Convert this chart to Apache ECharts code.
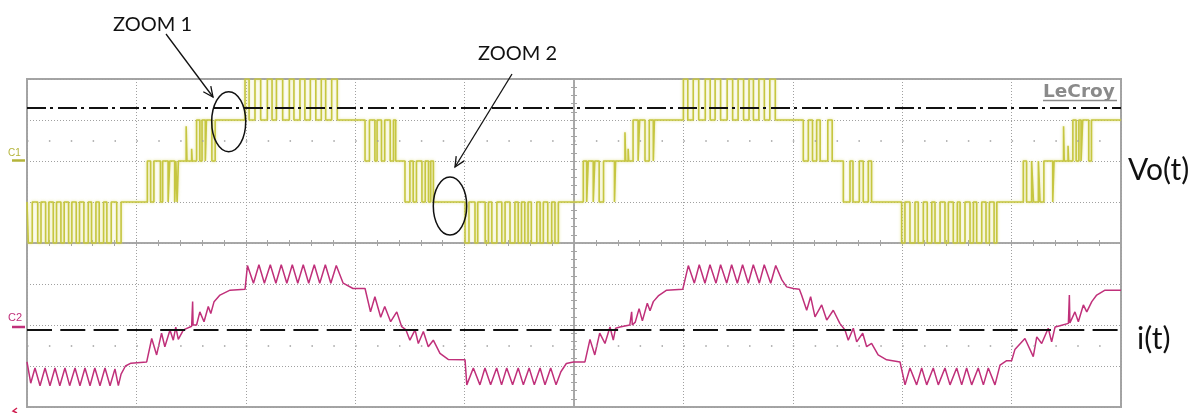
<!DOCTYPE html>
<html><head><meta charset="utf-8">
<script src="https://cdn.jsdelivr.net/npm/echarts@6/dist/echarts.min.js"></script>
<style>html,body{margin:0;padding:0;background:#fff;}#c{width:1201px;height:413px;}</style>
</head><body><div id="c"></div>
<script>
// Time axis: 10 divisions, 100 units per division. Levels in screen divisions.
// C1 (Vo): multilevel staircase, level held from t until next entry.
const c1Trace = [
 [0,-1],[1.2,-2],[4.8,-1],[9.8,-2],[12.8,-1],[17,-2],[20,-1],[24,-2],[27,-1],[31,-2],[34,-1],[38,-2],[41,-1],[45,-2],[48,-1],[52,-2],[56,-1],[59,-2],[63,-1],[66,-2],[70,-1],[73,-2],[77,-1],[82,-2],[86,-1],
 [110,0],[113,-1],[116,0],[122,-1],[124,0],[129,-1],[130.5,0],[135,-1],[136,0],[137.2,-1],[138.4,0],
 [145.5,0.85],[146.2,0],[150.5,0.3],[151,0],
 [155,1],[158,0],[160,1],[163,0],[164,1],[169,0],[172,1],
 [199.3,2],[203,1],[208.4,2],[213.6,1],[219.7,2],[224,1],[228,2],[233.7,1],[239.8,2],[244,1],[249.5,2],[254,1],[259,2],[264,1],[269,2],[273,1],[278.5,2],[283.6,1],
 [309,0],[313,1],[318,0],[320,1],[324,0],[327,1],[332,0],[335,1],[337,0],
 [345.5,-1],[350,0],[353,-1],[356,0],[361,-1],[364,0],[367,-1],[369,0],[371.5,-1],
 [400.4,-2],[404,-1],[409.5,-2],[412,-1],[418.8,-2],[421.8,-1],[424.9,-2],[429.5,-1],[434,-2],[437,-1],[441.5,-2],[446,-1],[449,-2],[452,-1],[455,-2],[458,-1],[461,-2],[466,-1],[469,-2],[472,-1],[476,-2],[479.6,-1],[482.6,-2],[485.7,-1],
 [508.5,0],[511.6,-1],[513,0],[517.6,-1],[519,0],[523,-1],[527,0],[537,-1],[538,0],
 [546.6,0.7],[547.2,0],[549.5,0.3],[550,0],
 [554,1],[558.6,0],[560,1],[564.9,0],[568.8,1],[572.5,0],[573.5,1],
 [600,2],[604,1],[609,2],[614,1],[620,2],[624.5,1],[629,2],[634,1],[640,2],[645,1],[650,2],[655,1],[660,2],[664,1],[669,2],[674,1],[679,2],[684,1],
 [709.6,0],[714.2,1],[718,0],[721.8,1],[725,0],[732,1],[736,0],
 [746.2,-1],[752.3,0],[755,-1],[760.8,0],[764.4,-1],[769,0],[772,-1],
 [799.5,-2],[802.5,-1],[807.1,-2],[811.7,-1],[814.7,-2],[819.3,-1],[822.9,-2],[827,-1],[830,-2],[834.6,-1],[839.1,-2],[842.2,-1],[846.7,-2],[850.4,-1],[852.9,-2],[857.4,-1],[862,-2],[865.1,-1],[868.1,-2],[872.7,-1],[876.6,-2],[879.7,-1],[884,-2],[886.5,-1],
 [910.7,0],[913.7,-1],[918.3,0],[920,-1],[924.5,0],[926,-1],[929.5,0],[937.6,-1],[938.8,0],
 [947.5,0.85],[948.1,0],[951.6,0.37],[952.1,0],
 [956,1],[959,0],[961.5,1],[963.5,0],[965,1],[970.5,0],[973,1],
 [1000,1]
];
// C2 (i): current trace, divisions relative to C2 ground.
const c2Trace = [
 [0,-0.85],[3.4,-1.37],[7.3,-1.0],[11.9,-1.43],[16.5,-1.0],[21,-1.43],[25.6,-1.0],[30,-1.43],[34.7,-1.0],[39,-1.43],[43.9,-1.0],[48.4,-1.43],[53,-1.0],[57.6,-1.43],[62,-1.0],[66.7,-1.43],[71.3,-1.0],[75.9,-1.43],[80.4,-1.02],[83.5,-1.43],[86,-1.15],[90,-0.95],[95,-0.88],[109.4,-0.85],
 [114,-0.28],[118.5,-0.68],[123,-0.15],[126,-0.48],[130.7,-0.07],[133.7,-0.32],[136,0.0],[138.3,-0.3],[143,-0.07],[150.5,0.02],[151.4,0.62],[151.8,0.05],[155,0.05],[158,0.37],[161.8,0.13],[165.7,0.5],[168,0.33],[171,0.62],[176.4,0.78],[185.6,0.9],[199.3,0.92],
 [201.5,1.5],[207,1.07],[212,1.52],[217,1.07],[222.4,1.52],[227.5,1.07],[232.4,1.52],[237.5,1.07],[242.5,1.52],[247.5,1.07],[252.5,1.52],[257.5,1.07],[262.6,1.52],[267.6,1.07],[272.7,1.52],[277.7,1.07],[282.7,1.5],[289,1.07],[298,0.94],[309,0.94],
 [310.5,0.9],[314,0.37],[318,0.74],[323.3,0.24],[327,0.5],[332.4,0.13],[338,0.37],[342.5,0.01],[346.4,-0.07],[350,-0.32],[354.7,-0.07],[357.7,-0.4],[362.3,-0.11],[366.8,-0.48],[371.4,-0.32],[377.5,-0.64],[385,-0.79],[400.4,-0.8],
 [402,-1.41],[408,-1.0],[414,-1.41],[418.6,-1.0],[423.8,-1.41],[429.3,-1.0],[433.8,-1.41],[438.5,-1.0],[443.9,-1.41],[449,-1.0],[453.7,-1.41],[459,-1.0],[463.7,-1.41],[469,-1.0],[473.5,-1.41],[478.7,-1.0],[483.6,-1.41],[488,-1.09],[493,-0.89],[499.4,-0.85],[510,-0.85],
 [514.6,-0.3],[519,-0.68],[523.5,-0.15],[528.3,-0.4],[532.9,0.0],[535.9,-0.32],[538,-0.03],[542,0.0],[551,0.05],[552.7,0.37],[553.3,0.05],[556,0.12],[559.5,0.45],[562.5,0.15],[567,0.58],[569.5,0.4],[572.5,0.62],[577,0.76],[584.7,0.9],[599.4,0.92],
 [604.5,1.5],[610,1.07],[614.5,1.52],[619.7,1.07],[624.3,1.52],[629.8,1.07],[634,1.52],[639.6,1.07],[644.1,1.52],[649.3,1.07],[654.1,1.52],[659.3,1.07],[663.9,1.52],[669.4,1.07],[673.9,1.52],[679.8,1.07],[684.4,1.5],[690,1.15],[694.4,0.98],[700.5,0.94],[706,0.92],
 [708,0.78],[712.7,0.41],[716.3,0.74],[720.3,0.25],[726.4,0.54],[731,0.17],[737,0.41],[743,0.09],[747.7,-0.07],[750.7,-0.32],[755.3,-0.03],[758.4,-0.36],[763.9,-0.15],[767.5,-0.48],[772,-0.4],[778,-0.68],[785.8,-0.8],[798,-0.85],
 [802.6,-1.41],[807.1,-1.0],[813.2,-1.41],[817.8,-1.0],[822.4,-1.41],[828.4,-1.0],[833,-1.41],[839.1,-1.0],[843.7,-1.41],[849.8,-1.0],[854.4,-1.41],[858.9,-1.0],[863.5,-1.41],[869.5,-1.0],[874.2,-1.41],[878.7,-1.0],[884.8,-1.41],[889.4,-0.93],[895.5,-0.82],[900,-0.82],
 [903,-0.55],[912.2,-0.28],[919.8,-0.72],[923,-0.24],[927.5,-0.4],[933.5,-0.03],[936.6,-0.36],[939.7,0.0],[944.2,0.03],[951.9,0.09],[952.8,0.78],[953.3,0.1],[957.9,0.37],[961,0.13],[965.6,0.54],[968.7,0.37],[973.3,0.62],[977.8,0.78],[985.4,0.9],[1000,0.9]
];
const c1RefLevel = 1.3;    // dash-dot reference on C1
const c2RefLevel = -0.07;  // dashed reference on C2
const dotRows = [2.5, -2.5];
const labels = { zoom1: 'ZOOM 1', zoom2: 'ZOOM 2', vo: 'Vo(t)', it: 'i(t)', brand: 'LeCroy', c1: 'C1', c2: 'C2' };

const GRID = '#a4a4a4', DOT = '#a0a0a0';
const chart = echarts.init(document.getElementById('c'), null, {renderer: 'canvas'});
chart.setOption({
  animation: false,
  grid: {left: 27, top: 79, width: 1094, height: 328, show: true, borderColor: GRID, borderWidth: 2, backgroundColor: 'transparent'},
  xAxis: [
    {type:'value', min:0, max:1000, interval:100, axisLine:{show:false, onZero:false}, axisTick:{show:false}, axisLabel:{show:false},
     splitLine:{show:true, lineStyle:{color:DOT, type:[1,2], width:1}}},
    {type:'value', position:'bottom', min:0, max:1000, interval:20, axisLine:{show:true, onZero:true, onZeroAxisIndex:0, lineStyle:{color:GRID, width:1.5}},
     axisTick:{show:true, length:3, lineStyle:{color:GRID}}, axisLabel:{show:false}, splitLine:{show:false}},
    {type:'value', position:'top', min:0, max:1000, interval:20, axisLine:{show:true, onZero:true, onZeroAxisIndex:0, lineStyle:{color:GRID, width:1.5}},
     axisTick:{show:true, length:3, lineStyle:{color:GRID}}, axisLabel:{show:false}, splitLine:{show:false}},
    {type:'value', min:-500, max:500, show:false}
  ],
  yAxis: [
    {type:'value', min:-4, max:4, interval:1, axisLine:{show:false, onZero:false}, axisTick:{show:false}, axisLabel:{show:false},
     splitLine:{show:true, lineStyle:{color:DOT, type:[1,2], width:1}}},
    {type:'value', min:-6, max:2, show:false},
    {type:'value', min:-1.95, max:6.05, show:false},
    {type:'value', position:'left', min:-4, max:4, interval:0.2, axisLine:{show:true, onZero:true, onZeroAxisIndex:3, lineStyle:{color:GRID, width:1.5}},
     axisTick:{show:true, length:3, lineStyle:{color:GRID}}, axisLabel:{show:false}, splitLine:{show:false}},
    {type:'value', position:'right', min:-4, max:4, interval:0.2, axisLine:{show:true, onZero:true, onZeroAxisIndex:3, lineStyle:{color:GRID, width:1.5}},
     axisTick:{show:true, length:3, lineStyle:{color:GRID}}, axisLabel:{show:false}, splitLine:{show:false}}
  ],
  series: [
    {type:'line', xAxisIndex:0, yAxisIndex:0, data:[], silent:true,
     markLine:{symbol:'none', silent:true, label:{show:false}, animation:false,
       lineStyle:{color:DOT, type:[1.5,20.38], width:1.5},
       data: dotRows.map(v => ({yAxis: v}))}},
    {type:'line', name:'C1', xAxisIndex:0, yAxisIndex:1, step:'end', data:c1Trace, showSymbol:false, symbol:'none',
     lineStyle:{color:'#c6c640', width:1.6, shadowBlur:3, shadowColor:'rgba(215,215,100,0.7)'}, z:3,
     markLine:{symbol:'none', silent:true, label:{show:false}, animation:false,
       lineStyle:{color:'#111', type:[19,4,3,5], width:2}, data:[{yAxis:c1RefLevel}]}},
    {type:'line', name:'C2', xAxisIndex:0, yAxisIndex:2, data:c2Trace, showSymbol:false, symbol:'none',
     lineStyle:{color:'#c0307a', width:1.5}, z:3,
     markLine:{symbol:'none', silent:true, label:{show:false}, animation:false,
       lineStyle:{color:'#111', type:[25,8.3], width:2}, data:[{yAxis:c2RefLevel}]}}
  ],
  graphic: [
    {type:'text', x:113, y:24.5, z:100, style:{text:labels.zoom1, fontSize:20, fontFamily:'Lato', fill:'#111', verticalAlign:'middle'}},
    {type:'text', x:478, y:54, z:100, style:{text:labels.zoom2, fontSize:20, fontFamily:'Lato', fill:'#111', verticalAlign:'middle'}},
    {type:'line', z:100, shape:{x1:166, y1:34, x2:213, y2:97}, style:{stroke:'#111', lineWidth:1.3}},
    {type:'polyline', z:100, shape:{points:[[210.8,86.2],[213,97],[203.3,91.8]]}, style:{stroke:'#111', lineWidth:1.3, fill:null}},
    {type:'line', z:100, shape:{x1:512, y1:74, x2:455, y2:167}, style:{stroke:'#111', lineWidth:1.3}},
    {type:'polyline', z:100, shape:{points:[[464.2,160.9],[455,167],[456.2,156.1]]}, style:{stroke:'#111', lineWidth:1.3, fill:null}},
    {type:'ellipse', z:100, shape:{cx:228.7, cy:121.7, rx:17, ry:30}, style:{stroke:'#111', lineWidth:1.5, fill:null}},
    {type:'ellipse', z:100, shape:{cx:450, cy:206, rx:16.7, ry:29}, style:{stroke:'#111', lineWidth:1.5, fill:null}},
    {type:'text', x:1043, y:92, z:100, style:{text:labels.brand, fontSize:18.5, fontWeight:'bold', fontFamily:'DejaVu Sans', fill:'#8a8a8a', verticalAlign:'middle'}},
    {type:'line', z:100, shape:{x1:1043, y1:100.5, x2:1117, y2:100.5}, style:{stroke:'#8a8a8a', lineWidth:1.5}},
    {type:'text', x:1128, y:170, z:100, style:{text:labels.vo, fontSize:30, fontFamily:'Lato', fill:'#111', verticalAlign:'middle'}},
    {type:'text', x:1137, y:339, z:100, style:{text:labels.it, fontSize:30, fontFamily:'Lato', fill:'#111', verticalAlign:'middle'}},
    {type:'text', x:8, y:153, z:100, style:{text:labels.c1, fontSize:10, fontFamily:'Liberation Sans', fill:'#b4b43a', verticalAlign:'middle'}},
    {type:'line', z:100, shape:{x1:12, y1:160.5, x2:25, y2:160.5}, style:{stroke:'#b4b43a', lineWidth:2.5}},
    {type:'text', x:8, y:318, z:100, style:{text:labels.c2, fontSize:11, fontFamily:'Liberation Sans', fill:'#c0307a', verticalAlign:'middle'}},
    {type:'line', z:100, shape:{x1:12, y1:327, x2:25, y2:327}, style:{stroke:'#c0307a', lineWidth:2.5}},
    {type:'polyline', z:100, shape:{points:[[17,408],[13,411],[17,413]]}, style:{stroke:'#d02050', lineWidth:1.5, fill:null}}
  ]
});
</script></body></html>
